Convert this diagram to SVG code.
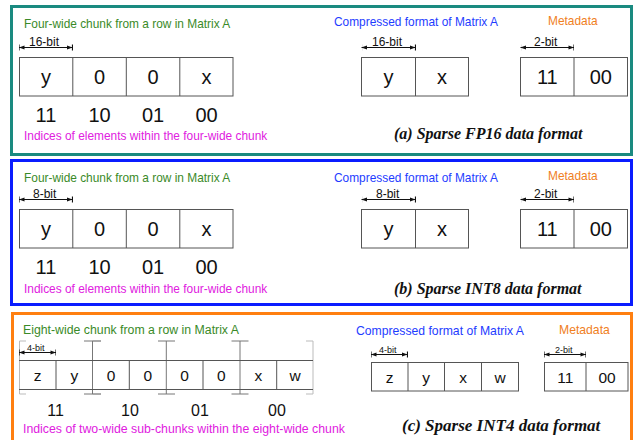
<svg xmlns="http://www.w3.org/2000/svg" width="635" height="440" viewBox="0 0 635 440">
  <style>
    .sans { font-family: "Liberation Sans", Arial, sans-serif; }
    .green { fill: #3a8a28; font-size: 11.9px; }
    .blue { fill: #1e3cff; font-size: 11.9px; }
    .orange { fill: #f0801e; font-size: 11.9px; }
    .magenta { fill: #e020e0; font-size: 11.9px; }
    .dim { fill: #111; font-size: 12px; }
    .cell { fill: #111; font-size: 20px; text-anchor: middle; }
    .cell-s { fill: #111; font-size: 15.5px; text-anchor: middle; }
    .idx { fill: #111; font-size: 20px; text-anchor: middle; }
    .idx-s { fill: #111; font-size: 16px; text-anchor: middle; }
    .caption { font-family: "Liberation Serif", "Times New Roman", serif; font-weight: bold; font-style: italic; font-size: 16px; fill: #111; }
    .box { fill: #fff; stroke: #555; stroke-width: 1; }
    .div { stroke: #555; stroke-width: 1; }
    .dimline { stroke: #111; stroke-width: 1.2; marker-start: url(#tick); marker-end: url(#tick); }
    .brk { stroke: #777; stroke-width: 1; fill: none; }
    .brk-l { stroke: #bbb; stroke-width: 1; fill: none; }
  </style>
  <defs>
    <marker id="tick" viewBox="0 -4 8 8" refX="8" refY="0" markerWidth="8" markerHeight="8" markerUnits="userSpaceOnUse" orient="auto-start-reverse">
      <path d="M8,0 L2.5,-2 L2.5,2 Z" fill="#111"/>
      <path d="M8,-3 L8,3" stroke="#111" stroke-width="1.2"/>
    </marker>
  </defs>

  <!-- (a) Sparse FP16 -->
  <g id="panel-fp16">
    <rect x="11.5" y="6.5" width="620" height="148" fill="none" stroke="#1a8a80" stroke-width="3"/>
    <g id="fp16-chunk">
      <text class="sans green" x="24" y="28">Four-wide chunk from a row in Matrix A</text>
      <text class="sans dim" x="29" y="46">16-bit</text>
      <line class="dimline" x1="19" y1="47.5" x2="72.5" y2="47.5"/>
      <rect class="box" x="19.5" y="57.5" width="213.5" height="38.5"/>
      <line class="div" x1="72.8" y1="57.5" x2="72.8" y2="96"/>
      <line class="div" x1="126.3" y1="57.5" x2="126.3" y2="96"/>
      <line class="div" x1="179.8" y1="57.5" x2="179.8" y2="96"/>
      <text class="sans cell" x="46" y="84">y</text>
      <text class="sans cell" x="99.5" y="84">0</text>
      <text class="sans cell" x="153" y="84">0</text>
      <text class="sans cell" x="206.5" y="84">x</text>
      <text class="sans idx" x="46" y="122">11</text>
      <text class="sans idx" x="99.5" y="122">10</text>
      <text class="sans idx" x="153" y="122">01</text>
      <text class="sans idx" x="206.5" y="122">00</text>
      <text class="sans magenta" x="24" y="140">Indices of elements within the four-wide chunk</text>
    </g>
    <g id="fp16-compressed">
      <text class="sans blue" x="334" y="26">Compressed format of Matrix A</text>
      <text class="sans dim" x="372" y="46">16-bit</text>
      <line class="dimline" x1="361.5" y1="47.5" x2="415.5" y2="47.5"/>
      <rect class="box" x="361.5" y="57.5" width="107" height="38.5"/>
      <line class="div" x1="415.5" y1="57.5" x2="415.5" y2="96"/>
      <text class="sans cell" x="388.5" y="84">y</text>
      <text class="sans cell" x="442" y="84">x</text>
    </g>
    <g id="fp16-metadata">
      <text class="sans orange" x="548" y="25">Metadata</text>
      <text class="sans dim" x="534" y="46">2-bit</text>
      <line class="dimline" x1="520.5" y1="47.5" x2="574" y2="47.5"/>
      <rect class="box" x="520.5" y="57.5" width="107" height="38.5"/>
      <line class="div" x1="574" y1="57.5" x2="574" y2="96"/>
      <text class="sans cell" x="547.3" y="84">11</text>
      <text class="sans cell" x="600.8" y="84">00</text>
    </g>
    <text class="caption" x="394" y="139">(a) Sparse FP16 data format</text>
  </g>

  <!-- (b) Sparse INT8 -->
  <g id="panel-int8">
    <rect x="11.5" y="160.5" width="620" height="144" fill="none" stroke="#0a1cff" stroke-width="3"/>
    <g id="int8-chunk">
      <text class="sans green" x="24" y="182">Four-wide chunk from a row in Matrix A</text>
      <text class="sans dim" x="33" y="198">8-bit</text>
      <line class="dimline" x1="19" y1="199.5" x2="72.5" y2="199.5"/>
      <rect class="box" x="19.5" y="209.5" width="213.5" height="38.5"/>
      <line class="div" x1="72.8" y1="209.5" x2="72.8" y2="248"/>
      <line class="div" x1="126.3" y1="209.5" x2="126.3" y2="248"/>
      <line class="div" x1="179.8" y1="209.5" x2="179.8" y2="248"/>
      <text class="sans cell" x="46" y="236">y</text>
      <text class="sans cell" x="99.5" y="236">0</text>
      <text class="sans cell" x="153" y="236">0</text>
      <text class="sans cell" x="206.5" y="236">x</text>
      <text class="sans idx" x="46" y="274">11</text>
      <text class="sans idx" x="99.5" y="274">10</text>
      <text class="sans idx" x="153" y="274">01</text>
      <text class="sans idx" x="206.5" y="274">00</text>
      <text class="sans magenta" x="24" y="293">Indices of elements within the four-wide chunk</text>
    </g>
    <g id="int8-compressed">
      <text class="sans blue" x="334" y="182">Compressed format of Matrix A</text>
      <text class="sans dim" x="376" y="198">8-bit</text>
      <line class="dimline" x1="361.5" y1="199.5" x2="415.5" y2="199.5"/>
      <rect class="box" x="361.5" y="209.5" width="107" height="38.5"/>
      <line class="div" x1="415.5" y1="209.5" x2="415.5" y2="248"/>
      <text class="sans cell" x="388.5" y="236">y</text>
      <text class="sans cell" x="442" y="236">x</text>
    </g>
    <g id="int8-metadata">
      <text class="sans orange" x="548" y="180">Metadata</text>
      <text class="sans dim" x="534" y="198">2-bit</text>
      <line class="dimline" x1="520.5" y1="199.5" x2="574" y2="199.5"/>
      <rect class="box" x="520.5" y="209.5" width="107" height="38.5"/>
      <line class="div" x1="574" y1="209.5" x2="574" y2="248"/>
      <text class="sans cell" x="547.3" y="236">11</text>
      <text class="sans cell" x="600.8" y="236">00</text>
    </g>
    <text class="caption" x="394" y="294">(b) Sparse INT8 data format</text>
  </g>

  <!-- (c) Sparse INT4 -->
  <g id="panel-int4">
    <rect x="12.5" y="313.5" width="619" height="140" fill="none" stroke="#ff7f10" stroke-width="3"/>
    <g id="int4-chunk">
      <text class="sans green" x="23" y="334" style="font-size:12.3px">Eight-wide chunk from a row in Matrix A</text>
      <!-- sub-chunk brackets -->
      <path class="brk-l" d="M26,341 H19.5 V394 H26 M306,341 H313 V394 H306 M92.5,341 H101 M92.5,394 H101"/>
      <path class="brk" d="M84,341 H101 M84,394 H101 M158,341 H175 M158,394 H175 M166.3,341 V394 M231.5,341 H248.5 M231.5,394 H248.5 M240,341 V394 M92.5,341 V394"/>
      <line class="div" x1="19" y1="360.5" x2="313" y2="360.5"/>
      <line class="div" x1="19" y1="389.5" x2="313" y2="389.5"/>
      <line class="div" x1="56" y1="360.5" x2="56" y2="389.5"/>
      <line class="div" x1="129.3" y1="360.5" x2="129.3" y2="389.5"/>
      <line class="div" x1="203" y1="360.5" x2="203" y2="389.5"/>
      <line class="div" x1="276.7" y1="360.5" x2="276.7" y2="389.5"/>
      <text class="sans dim" x="27" y="351" style="font-size:9px">4-bit</text>
      <line class="dimline" x1="19" y1="352.5" x2="56" y2="352.5"/>
      <text class="sans cell-s" x="37.5" y="381">z</text>
      <text class="sans cell-s" x="74.3" y="381">y</text>
      <text class="sans cell-s" x="111" y="381">0</text>
      <text class="sans cell-s" x="147.7" y="381">0</text>
      <text class="sans cell-s" x="184.6" y="381">0</text>
      <text class="sans cell-s" x="221.3" y="381">0</text>
      <text class="sans cell-s" x="258.3" y="381">x</text>
      <text class="sans cell-s" x="295" y="381">w</text>
      <text class="sans idx-s" x="55.5" y="416">11</text>
      <text class="sans idx-s" x="130" y="416">10</text>
      <text class="sans idx-s" x="200" y="416">01</text>
      <text class="sans idx-s" x="277" y="416">00</text>
      <text class="sans magenta" x="23" y="433" style="font-size:12.3px">Indices of two-wide sub-chunks within the eight-wide chunk</text>
    </g>
    <g id="int4-compressed">
      <text class="sans blue" x="356" y="335" style="font-size:12.2px">Compressed format of Matrix A</text>
      <text class="sans dim" x="379" y="353" style="font-size:9px">4-bit</text>
      <line class="dimline" x1="371" y1="354.5" x2="407.5" y2="354.5"/>
      <rect class="box" x="371.5" y="362.5" width="147" height="28.5"/>
      <line class="div" x1="408" y1="362.5" x2="408" y2="391"/>
      <line class="div" x1="444.5" y1="362.5" x2="444.5" y2="391"/>
      <line class="div" x1="481.5" y1="362.5" x2="481.5" y2="391"/>
      <text class="sans cell-s" x="389.5" y="382.5">z</text>
      <text class="sans cell-s" x="426" y="382.5">y</text>
      <text class="sans cell-s" x="463" y="382.5">x</text>
      <text class="sans cell-s" x="500" y="382.5">w</text>
    </g>
    <g id="int4-metadata">
      <text class="sans orange" x="559" y="334" style="font-size:12.2px">Metadata</text>
      <text class="sans dim" x="555" y="353" style="font-size:9px">2-bit</text>
      <line class="dimline" x1="544" y1="354.5" x2="586" y2="354.5"/>
      <rect class="box" x="544.5" y="362.5" width="83.5" height="28.5"/>
      <line class="div" x1="586" y1="362.5" x2="586" y2="391"/>
      <text class="sans cell-s" x="565.3" y="382.5">11</text>
      <text class="sans cell-s" x="607" y="382.5">00</text>
    </g>
    <text class="caption" x="402" y="431" style="font-size:17px">(c) Sparse INT4 data format</text>
  </g>
</svg>
